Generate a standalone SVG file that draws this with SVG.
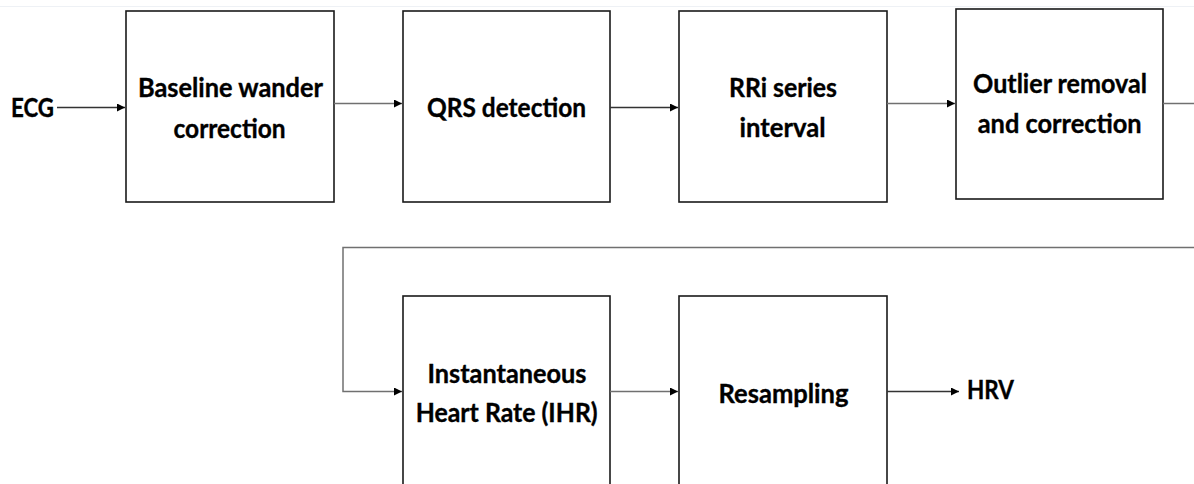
<svg xmlns="http://www.w3.org/2000/svg" width="1194" height="484" viewBox="0 0 1194 484">
  <style>
    .box { fill: #ffffff; stroke: #1a1a1a; stroke-width: 1.6; }
    .lbl { font-family: Lato, "Open Sans", "Liberation Sans", sans-serif; font-weight: bold; font-size: 26px; fill: #000000; stroke: #000000; stroke-width: 0.35; text-anchor: middle; }
    .io { font-family: Lato, "Open Sans", "Liberation Sans", sans-serif; font-weight: bold; font-size: 26px; fill: #000000; stroke: #000000; stroke-width: 0.35; }
    .wire { fill: none; stroke: #333333; stroke-width: 1.3; }
    .wire-g { fill: none; stroke: #707070; stroke-width: 1.5; }
  </style>
  <defs>
    <marker id="arrow" viewBox="0 0 10 10" refX="10" refY="5" markerWidth="8" markerHeight="8" markerUnits="userSpaceOnUse" orient="auto">
      <path d="M0,0 L10,5 L0,10 Z" fill="#000000"/>
    </marker>
  </defs>

  <rect x="0" y="0" width="1194" height="484" fill="#ffffff"/>
  <line x1="0" y1="6.5" x2="1194" y2="6.5" stroke="#eef1f5" stroke-width="1"/>

  <!-- input / output labels -->
  <text id="ecg" class="io" x="11" y="116.7" textLength="43" lengthAdjust="spacingAndGlyphs">ECG</text>
  <text id="hrv" class="io" x="967" y="398.5" textLength="47" lengthAdjust="spacingAndGlyphs">HRV</text>

  <g id="baseline">
    <rect class="box" x="126" y="11" width="208" height="191"/>
    <text class="lbl" x="230.5" y="96.7" textLength="185" lengthAdjust="spacingAndGlyphs">Baseline wander</text>
    <text class="lbl" x="229.5" y="137.7" textLength="112" lengthAdjust="spacingAndGlyphs">correction</text>
  </g>

  <g id="qrs">
    <rect class="box" x="403" y="11" width="207" height="191"/>
    <text class="lbl" x="506.5" y="117.3" textLength="159" lengthAdjust="spacingAndGlyphs">QRS detection</text>
  </g>

  <g id="rri">
    <rect class="box" x="679" y="11" width="208" height="191"/>
    <text class="lbl" x="783" y="97.3" textLength="108" lengthAdjust="spacingAndGlyphs">RRi series</text>
    <text class="lbl" x="782.5" y="137.3" textLength="86" lengthAdjust="spacingAndGlyphs">interval</text>
  </g>

  <g id="outlier">
    <rect class="box" x="956" y="9" width="207" height="190"/>
    <text class="lbl" x="1060" y="93.3" textLength="174" lengthAdjust="spacingAndGlyphs">Outlier removal</text>
    <text class="lbl" x="1059.7" y="132.7" textLength="164" lengthAdjust="spacingAndGlyphs">and correction</text>
  </g>

  <g id="ihr">
    <rect class="box" x="403" y="296" width="207" height="200"/>
    <text class="lbl" x="507" y="382.7" textLength="159" lengthAdjust="spacingAndGlyphs">Instantaneous</text>
    <text class="lbl" x="506.7" y="421.7" textLength="182" lengthAdjust="spacingAndGlyphs">Heart Rate (IHR)</text>
  </g>

  <g id="resampling">
    <rect class="box" x="679" y="296" width="208" height="200"/>
    <text class="lbl" x="783.5" y="402.7" textLength="130" lengthAdjust="spacingAndGlyphs">Resampling</text>
  </g>

  <g id="connectors">
    <line class="wire" x1="57" y1="107.5" x2="125" y2="107.5" marker-end="url(#arrow)"/>
    <line class="wire-g" x1="334" y1="103.5" x2="402" y2="103.5" marker-end="url(#arrow)"/>
    <line class="wire" x1="610" y1="107.5" x2="678" y2="107.5" marker-end="url(#arrow)"/>
    <line class="wire-g" x1="887" y1="103.5" x2="955" y2="103.5" marker-end="url(#arrow)"/>
    <line class="wire-g" x1="1163" y1="103.5" x2="1194" y2="103.5"/>
    <polyline class="wire-g" points="1194,247.5 343,247.5 343,391.5 402,391.5" marker-end="url(#arrow)"/>
    <line class="wire-g" x1="610" y1="391.5" x2="678" y2="391.5" marker-end="url(#arrow)"/>
    <line class="wire" x1="887" y1="391.5" x2="959" y2="391.5" marker-end="url(#arrow)"/>
  </g>
</svg>
